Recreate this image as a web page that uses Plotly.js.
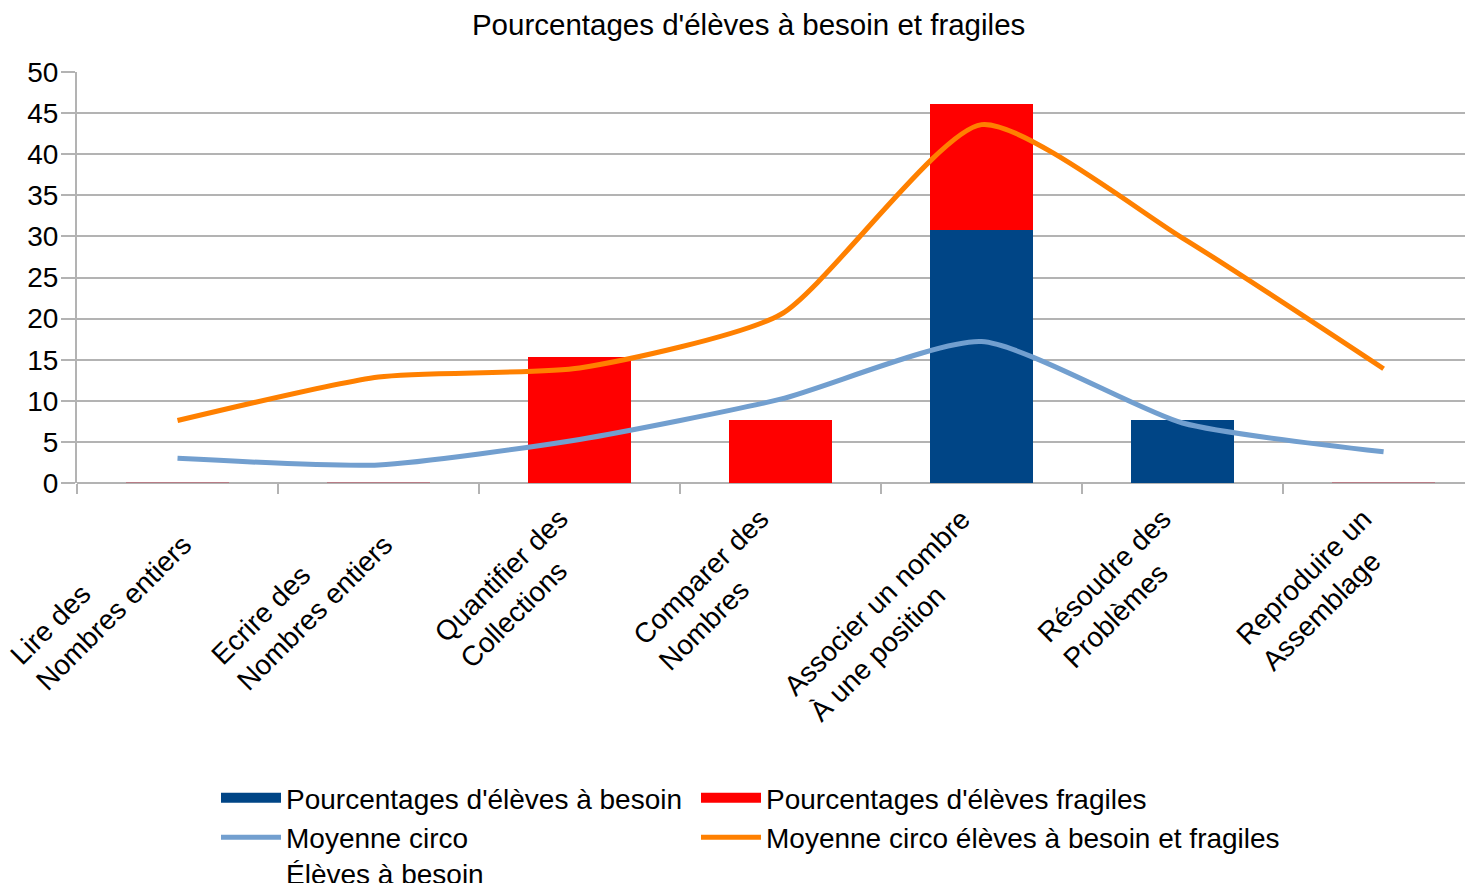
<!DOCTYPE html>
<html>
<head>
<meta charset="utf-8">
<script src="https://cdn.plot.ly/plotly-3.0.1.min.js"></script>
<style>html,body{margin:0;padding:0;background:#fff;}#chart{width:1465px;height:883px;}</style>
</head>
<body>
<div id="chart"></div>
<script>
const categories = [
  "Lire des<br>Nombres entiers",
  "Ecrire des<br>Nombres entiers",
  "Quantifier des<br>Collections",
  "Comparer des<br>Nombres",
  "Associer un nombre<br>À une position",
  "Résoudre des<br>Problèmes",
  "Reproduire un<br>Assemblage"
];
const besoin = [0, 0, 0, 0, 30.77, 7.69, 0];
const fragiles = [0, 0, 15.38, 7.69, 15.38, 0, 0];
const moyenneBesoin = [3.0, 2.2, 5.3, 10.2, 17.2, 7.3, 3.8];
const moyenneBesoinFragiles = [7.6, 12.9, 14.0, 20.5, 43.6, 29.8, 13.9];

const seriesNames = [
  "Pourcentages d'élèves à besoin",
  "Pourcentages d'élèves fragiles",
  "Moyenne circo<br>Élèves à besoin",
  "Moyenne circo élèves à besoin et fragiles"
];
const colors = ["#004586", "#ff0000", "#729fcf", "#ff8000"];

const FONT = "Liberation Sans, Arial, sans-serif";
const zeroLine = fragiles.map((v, i) => (v === 0 && besoin[i] === 0) ? 2 : 0);

const traces = [
  {type: "bar", name: seriesNames[0], x: categories, y: besoin, showlegend: false,
   marker: {color: colors[0], line: {width: 0}}, width: 0.51},
  {type: "bar", name: seriesNames[1], x: categories, y: fragiles, showlegend: false,
   marker: {color: colors[1], line: {width: zeroLine, color: "#b77c86"}}, width: 0.51},
  {type: "scatter", mode: "lines", name: seriesNames[2], x: categories, y: moyenneBesoin,
   line: {color: colors[2], width: 5, shape: "spline", smoothing: 0.6}, legend: "legend", legendrank: 2},
  {type: "scatter", mode: "lines", name: seriesNames[3], x: categories, y: moyenneBesoinFragiles,
   line: {color: colors[3], width: 5, shape: "spline", smoothing: 0.6}, legend: "legend2", legendrank: 2},
  // legend keys for the bar series (wide rectangles as in the original)
  {type: "scatter", mode: "lines", name: seriesNames[0], x: [null], y: [null],
   line: {color: colors[0], width: 16}, legend: "legend", legendrank: 1, hoverinfo: "skip"},
  {type: "scatter", mode: "lines", name: seriesNames[1], x: [null], y: [null],
   line: {color: colors[1], width: 16}, legend: "legend2", legendrank: 1, hoverinfo: "skip"}
];

const annotations = categories.map(c => ({
  x: c, y: 0, xref: "x", yref: "y", text: c, showarrow: false,
  textangle: -45, align: "left", xanchor: "right", yanchor: "top",
  xshift: 21, yshift: -19, borderpad: 0,
  font: {family: FONT, size: 28, color: "#000"}
}));

const legendCommon = {
  orientation: "v", xref: "container", yref: "container", xanchor: "left", yanchor: "top",
  y: 0.1245, font: {family: FONT, size: 28, color: "#000"},
  itemwidth: 60, valign: "top", traceorder: "normal", bgcolor: "rgba(0,0,0,0)", borderwidth: 0
};

const layout = {
  width: 1465, height: 883,
  paper_bgcolor: "#ffffff", plot_bgcolor: "#ffffff",
  barmode: "stack",
  font: {family: FONT, size: 28, color: "#000"},
  margin: {l: 77, r: 0, t: 72, b: 400, pad: 0, autoexpand: false},
  title: {text: "Pourcentages d'élèves à besoin et fragiles", font: {family: FONT, size: 29.5, color: "#000"},
          x: 0.511, xref: "container", xanchor: "center", y: 0.972, yref: "container", yanchor: "middle"},
  xaxis: {
    type: "category", range: [-0.5, 6.405], autorange: false, automargin: false,
    showticklabels: false, ticks: "outside", tickson: "boundaries", ticklen: 10, tickwidth: 2, tickcolor: "#b3b3b3",
    showgrid: false, showline: false, zeroline: false
  },
  yaxis: {
    range: [0, 50], autorange: false, dtick: 5, tick0: 0, automargin: false,
    showgrid: true, gridcolor: "#b3b3b3", gridwidth: 2,
    showline: true, linecolor: "#b3b3b3", linewidth: 2,
    ticks: "outside", ticklen: 14, tickwidth: 2, tickcolor: "#b3b3b3", ticklabelstandoff: -3,
    zeroline: true, zerolinecolor: "#b3b3b3", zerolinewidth: 2,
    tickfont: {family: FONT, size: 28, color: "#000"}
  },
  showlegend: true,
  legend: Object.assign({}, legendCommon, {x: 216 / 1465}),
  legend2: Object.assign({}, legendCommon, {x: 696 / 1465}),
  annotations: annotations
};

Plotly.newPlot("chart", traces, layout, {displayModeBar: false, staticPlot: true});
</script>
</body>
</html>
